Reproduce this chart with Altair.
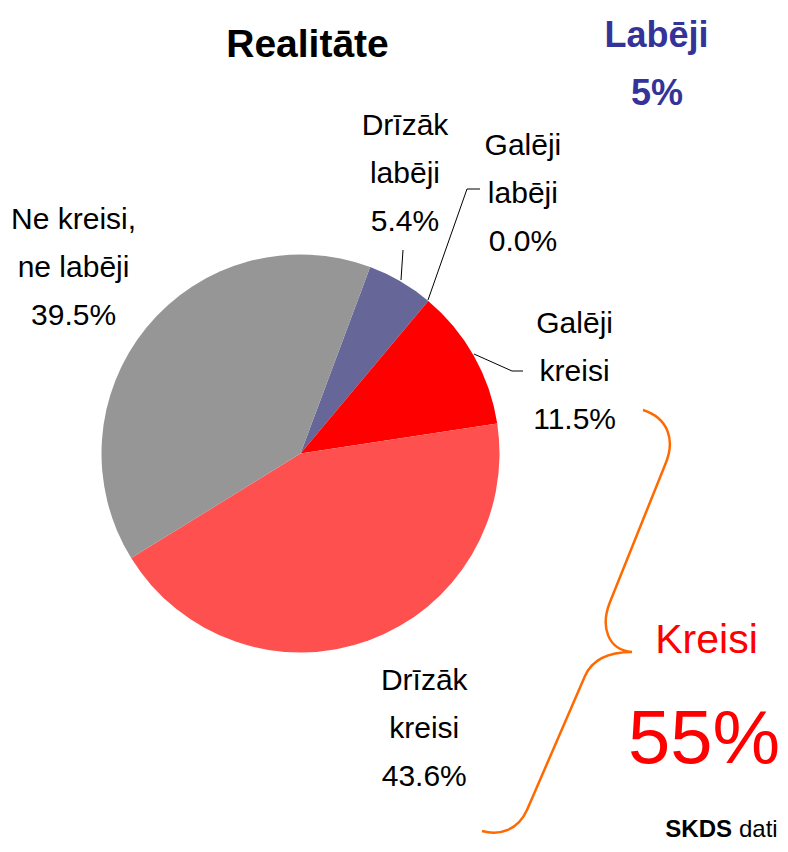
import altair as alt
import pandas as pd

# ---- data ----
categories = ["Drīzāk labēji", "Galēji labēji", "Galēji kreisi", "Drīzāk kreisi", "Ne kreisi, ne labēji"]
label_lines = ["Drīzāk\nlabēji", "Galēji\nlabēji", "Galēji\nkreisi", "Drīzāk\nkreisi", "Ne kreisi,\nne labēji"]
values = [5.4, 0.0, 11.5, 43.6, 39.5]
colors = ["#666699", "#333399", "#FF0000", "#FF5050", "#969696"]

title_text = "Realitāte"
right_group = ["Labēji", "5%"]
left_group = ["Kreisi", "55%"]
source_bold = "SKDS"
source_rest = "dati"

FONT = "Liberation Sans, Arial, sans-serif"

df = pd.DataFrame({
    "cat": categories,
    "lines": label_lines,
    "value": values,
    "order": list(range(len(categories))),
})

# ---- layout ----
CX, CY = 292.5, 445.5          # pie centre (chart coords)
R_OUT = 199
PI = 3.141592653589793
START = 20.5 * PI / 180
LABEL_R = 295
label_offsets = {
    "Drīzāk labēji": (-44, -64),
    "Galēji labēji": (33, -72),
    "Galēji kreisi": (17, 24),
    "Drīzāk kreisi": (22, -40),
    "Ne kreisi, ne labēji": (1, -37),
}

theta_scale = alt.Scale(range=[START, START + 2 * PI])
order = alt.Order("order:Q", sort="ascending")

base = alt.Chart(df)

pie = base.mark_arc(outerRadius=R_OUT, stroke=None).encode(
    theta=alt.Theta("value:Q", stack=True, scale=theta_scale),
    order=order,
    color=alt.Color("cat:N", scale=alt.Scale(domain=categories, range=colors), legend=None),
    x=alt.value(CX),
    y=alt.value(CY),
)

label_layers = []
for cat in categories:
    dx, dy = label_offsets[cat]
    lay = base.transform_window(
        cum="sum(value)", sort=[alt.SortField("order", order="ascending")], frame=[None, 0]
    ).transform_calculate(
        mid="datum.cum - datum.value / 2",
        txt="datum.lines + '\\n' + format(datum.value, '.1f') + '%'",
    ).transform_filter(
        alt.datum.cat == cat
    ).mark_text(
        radius=LABEL_R, dx=dx, dy=dy, font=FONT, fontSize=30, lineBreak="\n",
        lineHeight=48, align="center", baseline="alphabetic", color="#000000",
    ).encode(
        theta=alt.Theta("mid:Q", stack=None, scale=theta_scale),
        text="txt:N",
        x=alt.value(CX),
        y=alt.value(CY),
    )
    label_layers.append(lay)

# leader lines (decoration)
def seg(x1, y1, x2, y2):
    return alt.Chart(pd.DataFrame({"k": [0]})).mark_rule(color="#000000", strokeWidth=1).encode(
        x=alt.value(x1), y=alt.value(y1), x2=alt.value(x2), y2=alt.value(y2)
    )

leaders = [
    seg(393, 272, 395, 242),
    seg(420, 292, 459, 181), seg(459, 181, 472, 181),
    seg(466, 346, 504, 363), seg(504, 363, 515, 363),
]

# curly brace (decoration) as a custom symbol path
BCX, BCY = 575, 621      # page coords of brace centre
K = 215.0
brace_pts = [
    ("M", [(643, 410)]),
    ("C", [(668, 418), (676, 440), (665, 465)]),
    ("L", [(610, 602)]),
    ("C", [(600, 627), (608, 650), (632, 652)]),
    ("C", [(608, 652), (592, 660), (585, 676)]),
    ("L", [(527, 810)]),
    ("C", [(518, 830), (500, 836), (482, 831)]),
]
path = ""
for cmd, pts in brace_pts:
    path += cmd + " " + " ".join(f"{(px - BCX) / K:.4f},{(py - BCY) / K:.4f}" for px, py in pts) + " "
brace = alt.Chart(pd.DataFrame({"k": [0]})).mark_point(
    shape=path.strip(), filled=False, stroke="#FF6A00", strokeWidth=2.5, size=(2 * K) ** 2, opacity=1
).encode(x=alt.value(BCX - 8), y=alt.value(BCY - 8))

def note(txt, x, y, size, color="#000000", weight="normal", align="center"):
    return alt.Chart(pd.DataFrame({"t": [txt]})).mark_text(
        font=FONT, fontSize=size, fontWeight=weight, color=color, align=align, baseline="alphabetic"
    ).encode(text="t:N", x=alt.value(x), y=alt.value(y))

notes = [
    note(title_text, 299.5, 49, 39, weight="bold"),
    note(right_group[0], 648.5, 39, 36, color="#333399", weight="bold"),
    note(right_group[1], 649, 97, 36, color="#333399", weight="bold"),
    note(left_group[0], 698.5, 645, 41, color="#FF0000"),
    note(left_group[1], 696, 755, 76, color="#FF0000"),
    note(source_bold, 724, 829, 24, weight="bold", align="right"),
    note(source_rest, 731, 829, 24, align="left"),
]

chart = alt.layer(pie, *label_layers, *leaders, brace, *notes).properties(
    width=772, height=836, padding=0,
    autosize=alt.AutoSizeParams(type="fit", contains="padding"),
).configure_view(stroke=None)

chart.save("out.html", embed_options={"renderer": "svg", "actions": False})
